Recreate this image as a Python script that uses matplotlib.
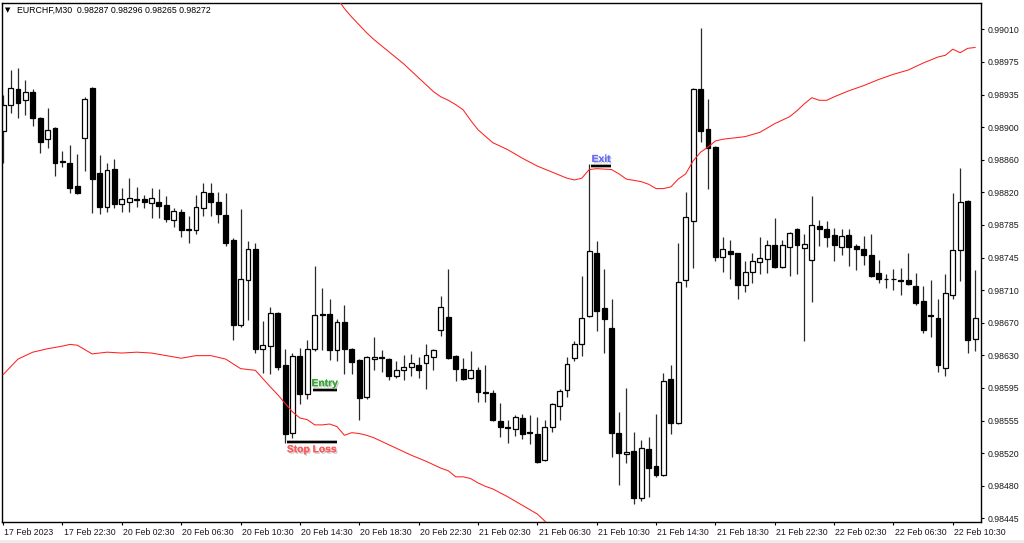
import numpy as np
import matplotlib
matplotlib.use("Agg")
import matplotlib.pyplot as plt
import matplotlib.transforms as mtransforms
import matplotlib.patheffects as pe
from matplotlib.patches import Rectangle

# EURCHF M30 candles (bar index 0 = 17 Feb 2023 18:30)
opens = [0.98892, 0.98923, 0.98941, 0.98928, 0.98938, 0.98908, 0.98883, 0.98896, 0.98858, 0.98855,
         0.98829, 0.98884, 0.98942, 0.98844, 0.98805, 0.98849, 0.98808, 0.98811, 0.98813, 0.98814,
         0.98809, 0.98810, 0.98807, 0.98790, 0.98799, 0.98778, 0.98778, 0.98803, 0.98821, 0.98810,
         0.98796, 0.98767, 0.98668, 0.98720, 0.98756, 0.98641, 0.98644, 0.98682, 0.98622, 0.98544,
         0.98633, 0.98589, 0.98641, 0.98681, 0.98681, 0.98640, 0.98672, 0.98641, 0.98628, 0.98585,
         0.98629, 0.98631, 0.98629, 0.98609, 0.98616, 0.98620, 0.98622, 0.98625, 0.98631, 0.98663,
         0.98678, 0.98633, 0.98618, 0.98607, 0.98616, 0.98590, 0.98590, 0.98558, 0.98550, 0.98548,
         0.98561, 0.98545, 0.98543, 0.98512, 0.98551, 0.98575, 0.98593, 0.98630, 0.98647, 0.98679,
         0.98752, 0.98688, 0.98665, 0.98544, 0.98519, 0.98523, 0.98468, 0.98525, 0.98505, 0.98495,
         0.98606, 0.98555, 0.98720, 0.98789, 0.98941, 0.98895, 0.98874, 0.98747, 0.98754, 0.98751,
         0.98715, 0.98730, 0.98741, 0.98745, 0.98761, 0.98735, 0.98759, 0.98779, 0.98757, 0.98743,
         0.98783, 0.98779, 0.98772, 0.98759, 0.98772, 0.98760, 0.98756, 0.98749, 0.98728, 0.98721,
         0.98722, 0.98720, 0.98720, 0.98714, 0.98696, 0.98680, 0.98677, 0.98619, 0.98703, 0.98755,
         0.98812, 0.98652]
highs = [0.98934, 0.98963, 0.98965, 0.98951, 0.98941, 0.98909, 0.98919, 0.98897, 0.98869, 0.98876,
         0.98866, 0.98932, 0.98943, 0.98865, 0.98856, 0.98860, 0.98827, 0.98838, 0.98828, 0.98819,
         0.98827, 0.98826, 0.98817, 0.98803, 0.98802, 0.98794, 0.98819, 0.98833, 0.98832, 0.98822,
         0.98821, 0.98769, 0.98802, 0.98765, 0.98763, 0.98673, 0.98689, 0.98683, 0.98641, 0.98636,
         0.98642, 0.98651, 0.98737, 0.98711, 0.98699, 0.98675, 0.98691, 0.98642, 0.98629, 0.98633,
         0.98654, 0.98640, 0.98630, 0.98627, 0.98634, 0.98635, 0.98631, 0.98646, 0.98641, 0.98702,
         0.98733, 0.98634, 0.98630, 0.98638, 0.98620, 0.98622, 0.98593, 0.98578, 0.98559, 0.98564,
         0.98566, 0.98564, 0.98562, 0.98559, 0.98578, 0.98595, 0.98632, 0.98650, 0.98725, 0.98854,
         0.98766, 0.98733, 0.98699, 0.98568, 0.98596, 0.98545, 0.98536, 0.98539, 0.98566, 0.98613,
         0.98622, 0.98763, 0.98822, 0.98942, 0.99011, 0.98929, 0.98875, 0.98770, 0.98767, 0.98752,
         0.98742, 0.98752, 0.98770, 0.98767, 0.98792, 0.98767, 0.98776, 0.98780, 0.98774, 0.98818,
         0.98790, 0.98788, 0.98780, 0.98779, 0.98779, 0.98762, 0.98771, 0.98773, 0.98744, 0.98727,
         0.98733, 0.98734, 0.98751, 0.98729, 0.98714, 0.98720, 0.98698, 0.98727, 0.98821, 0.98850,
         0.98813, 0.98732]
lows = [0.98856, 0.98913, 0.98908, 0.98911, 0.98898, 0.98867, 0.98873, 0.98841, 0.98851, 0.98821,
        0.98820, 0.98846, 0.98798, 0.98797, 0.98799, 0.98803, 0.98799, 0.98799, 0.98805, 0.98804,
        0.98792, 0.98792, 0.98787, 0.98782, 0.98770, 0.98763, 0.98773, 0.98794, 0.98794, 0.98786,
        0.98760, 0.98651, 0.98666, 0.98674, 0.98636, 0.98613, 0.98612, 0.98616, 0.98532, 0.98538,
        0.98577, 0.98583, 0.98638, 0.98640, 0.98628, 0.98627, 0.98612, 0.98612, 0.98559, 0.98583,
        0.98616, 0.98614, 0.98605, 0.98607, 0.98605, 0.98609, 0.98607, 0.98594, 0.98616, 0.98656,
        0.98629, 0.98604, 0.98605, 0.98606, 0.98580, 0.98580, 0.98558, 0.98539, 0.98532, 0.98540,
        0.98537, 0.98531, 0.98509, 0.98511, 0.98545, 0.98559, 0.98585, 0.98627, 0.98633, 0.98678,
        0.98661, 0.98636, 0.98516, 0.98484, 0.98509, 0.98462, 0.98465, 0.98470, 0.98493, 0.98494,
        0.98543, 0.98554, 0.98712, 0.98734, 0.98880, 0.98826, 0.98742, 0.98730, 0.98722, 0.98698,
        0.98706, 0.98717, 0.98727, 0.98729, 0.98734, 0.98734, 0.98725, 0.98727, 0.98650, 0.98695,
        0.98760, 0.98758, 0.98742, 0.98749, 0.98737, 0.98732, 0.98738, 0.98724, 0.98717, 0.98711,
        0.98709, 0.98703, 0.98715, 0.98692, 0.98659, 0.98654, 0.98614, 0.98610, 0.98699, 0.98719,
        0.98636, 0.98638]
closes = [0.98923, 0.98942, 0.98925, 0.98938, 0.98907, 0.98880, 0.98894, 0.98856, 0.98857, 0.98827,
          0.98821, 0.98929, 0.98837, 0.98805, 0.98848, 0.98808, 0.98814, 0.98815, 0.98814, 0.98810,
          0.98815, 0.98806, 0.98791, 0.98800, 0.98778, 0.98779, 0.98805, 0.98822, 0.98810, 0.98797,
          0.98763, 0.98668, 0.98722, 0.98756, 0.98641, 0.98645, 0.98682, 0.98620, 0.98543, 0.98633,
          0.98589, 0.98641, 0.98680, 0.98680, 0.98640, 0.98672, 0.98641, 0.98626, 0.98584, 0.98631,
          0.98631, 0.98630, 0.98610, 0.98616, 0.98620, 0.98624, 0.98616, 0.98634, 0.98639, 0.98689,
          0.98630, 0.98618, 0.98606, 0.98616, 0.98591, 0.98591, 0.98559, 0.98550, 0.98549, 0.98562,
          0.98543, 0.98544, 0.98510, 0.98550, 0.98577, 0.98592, 0.98623, 0.98647, 0.98677, 0.98754,
          0.98684, 0.98675, 0.98544, 0.98521, 0.98522, 0.98468, 0.98526, 0.98503, 0.98495, 0.98604,
          0.98555, 0.98718, 0.98793, 0.98941, 0.98893, 0.98873, 0.98747, 0.98756, 0.98750, 0.98715,
          0.98730, 0.98742, 0.98746, 0.98761, 0.98735, 0.98761, 0.98775, 0.98761, 0.98762, 0.98784,
          0.98779, 0.98770, 0.98761, 0.98771, 0.98758, 0.98756, 0.98749, 0.98725, 0.98722, 0.98722,
          0.98721, 0.98719, 0.98716, 0.98694, 0.98663, 0.98679, 0.98622, 0.98705, 0.98755, 0.98811,
          0.98651, 0.98676]

# red band lines (bar index, price)
lower_idx = [0, 2, 4, 6, 8, 9, 10, 12, 14, 16, 18, 20, 22, 24, 26, 28, 30, 32, 33, 34, 36, 37, 38,
             39, 40, 41, 42, 43, 44, 45, 46, 47, 48, 49, 50, 51, 53, 55, 57, 59, 60, 61, 62, 63, 64,
             65, 66, 68, 70, 72, 73, 74]
lower_vals = [0.98611, 0.98629, 0.98637, 0.98641, 0.98644, 0.98646, 0.98645, 0.98635, 0.98637,
              0.98636, 0.98637, 0.98636, 0.98633, 0.98630, 0.98633, 0.98633, 0.98629, 0.98618,
              0.98617, 0.98616, 0.98597, 0.98588, 0.98578, 0.98568, 0.98561, 0.98559, 0.98553,
              0.98553, 0.98554, 0.98551, 0.98541, 0.98544, 0.98543, 0.98541, 0.98538, 0.98534,
              0.98526, 0.98518, 0.98511, 0.98503, 0.98500, 0.98493, 0.98493, 0.98491, 0.98486,
              0.98482, 0.98479, 0.98470, 0.98460, 0.98450, 0.98442, 0.98433]
upper_idx = [45, 46, 47, 48, 49, 50, 52, 54, 56, 58, 59, 60, 61, 62, 63, 64, 66, 68, 70, 72, 74,
             76, 77, 78, 79, 80, 82, 83, 84, 86, 87, 88, 89, 90, 91, 92, 93, 94, 95, 96, 97, 98,
             100, 102, 104, 106, 107, 108, 109, 110, 111, 112, 114, 116, 118, 120, 122, 124, 126,
             127, 128, 129, 130, 131]
upper_vals = [0.99046, 0.99034, 0.99024, 0.99015, 0.99006, 0.98998, 0.98984, 0.98970, 0.98954,
              0.98938, 0.98932, 0.98928, 0.98923, 0.98917, 0.98905, 0.98894, 0.98879, 0.98871,
              0.98861, 0.98852, 0.98845, 0.98838, 0.98836, 0.98838, 0.98848, 0.98849, 0.98848,
              0.98843, 0.98837, 0.98834, 0.98831, 0.98826, 0.98826, 0.98828, 0.98837, 0.98843,
              0.98858, 0.98868, 0.98874, 0.98881, 0.98883, 0.98884, 0.98886, 0.98891, 0.98901,
              0.98909, 0.98916, 0.98924, 0.98931, 0.98928, 0.98928, 0.98932, 0.98939, 0.98945,
              0.98952, 0.98958, 0.98963, 0.98971, 0.98978, 0.98980, 0.98987, 0.98983, 0.98988,
              0.98989]

# trade levels
entry_price, entry_span = 0.98593, (41.7, 45.0)
stop_price, stop_span = 0.98533, (38.2, 45.0)
exit_price, exit_span = 0.98852, (79.3, 81.9)

time_labels = ["17 Feb 2023", "17 Feb 22:30", "20 Feb 02:30", "20 Feb 06:30", "20 Feb 10:30",
               "20 Feb 14:30", "20 Feb 18:30", "20 Feb 22:30", "21 Feb 02:30", "21 Feb 06:30",
               "21 Feb 10:30", "21 Feb 14:30", "21 Feb 18:30", "21 Feb 22:30", "22 Feb 02:30",
               "22 Feb 06:30", "22 Feb 10:30"]
price_labels = ["0.98445", "0.98480", "0.98520", "0.98555", "0.98595", "0.98630", "0.98670",
                "0.98710", "0.98745", "0.98785", "0.98820", "0.98860", "0.98900", "0.98935",
                "0.98975", "0.99010"]

FONT = ["Liberation Sans", "DejaVu Sans"]
plt.rcParams["font.family"] = FONT

fig = plt.figure(figsize=(10.24, 5.43), dpi=100)
ax = fig.add_axes([2 / 1024, 21 / 543, 979 / 1024, 519 / 543])

o = np.array(opens); h = np.array(highs); l = np.array(lows); c = np.array(closes)
x = np.arange(len(o))
bull = c >= o
bottoms = np.minimum(o, c)
heights = np.abs(c - o)

ax.vlines(x, l, h, color="#2a2a2a", lw=0.9, zorder=1)
ax.bar(x[bull], heights[bull], bottom=bottoms[bull], width=0.66,
       facecolor="white", edgecolor="black", linewidth=0.9, zorder=2)
ax.bar(x[~bull], heights[~bull], bottom=bottoms[~bull], width=0.66,
       facecolor="black", edgecolor="black", linewidth=0.9, zorder=2)

ax.plot(lower_idx, lower_vals, color="#ff2020", lw=0.75, zorder=3)
ax.plot(upper_idx, upper_vals, color="#ff2020", lw=0.75, zorder=3)

# trade markers
shadow = [pe.withSimplePatchShadow(offset=(1, -1), shadow_rgbFace="#888888", alpha=0.45), pe.Normal()]
for span, price in [(entry_span, entry_price), (stop_span, stop_price), (exit_span, exit_price)]:
    ax.plot(span, [price, price], color="black", lw=1.7, solid_capstyle="butt", zorder=4,
            path_effects=shadow)

ax.annotate("Entry", (sum(entry_span) / 2, entry_price), xytext=(0, 1.5), textcoords="offset points",
            ha="center", va="bottom", fontsize=7.4, fontweight="bold", color="#33a833",
            path_effects=shadow, zorder=5)
ax.annotate("Stop Loss", (sum(stop_span) / 2, stop_price), xytext=(0, -1.5), textcoords="offset points",
            ha="center", va="top", fontsize=7.4, fontweight="bold", color="#ff5a5a",
            path_effects=shadow, zorder=5)
ax.annotate("Exit", (sum(exit_span) / 2, exit_price), xytext=(0, 1.5), textcoords="offset points",
            ha="center", va="bottom", fontsize=7.4, fontweight="bold", color="#6a6aff",
            path_effects=shadow, zorder=5)

ax.set_xlim(-0.15, 131.8)
ax.set_ylim(0.984408, 0.990404)

ax.yaxis.tick_right()
ax.set_yticks(np.linspace(0.98445, 0.99010, len(price_labels)))
ax.set_yticklabels(price_labels)
ax.tick_params(axis="y", direction="out", length=2.5, width=0.8, pad=2, labelsize=6.3,
               labelcolor="#1a1a1a")

ax.set_xticks(np.arange(len(time_labels)) * 8)
ax.set_xticklabels(time_labels, ha="left")
ax.tick_params(axis="x", direction="out", length=2.5, width=0.8, pad=2, labelsize=6.3,
               labelcolor="#1a1a1a")
offset = mtransforms.ScaledTranslation(1.2 / 100, 0, fig.dpi_scale_trans)
for lbl in ax.get_xticklabels():
    lbl.set_transform(lbl.get_transform() + offset)

for sp in ax.spines.values():
    sp.set_color("black")
    sp.set_linewidth(1.0)

fig.text(5 / 1024, 1 - 10 / 543, "\u25bc", fontsize=5, va="center", ha="left",
         family=["DejaVu Sans"], color="black")
fig.text(17 / 1024, 1 - 10 / 543, "EURCHF,M30  0.98287 0.98296 0.98265 0.98272",
         fontsize=6.3, va="center", ha="left", color="black")

fig.add_artist(Rectangle((0, 0), 1, 3 / 543, transform=fig.transFigure,
                         facecolor="#ececec", edgecolor="none"))

fig.savefig("out.png", dpi=100)
